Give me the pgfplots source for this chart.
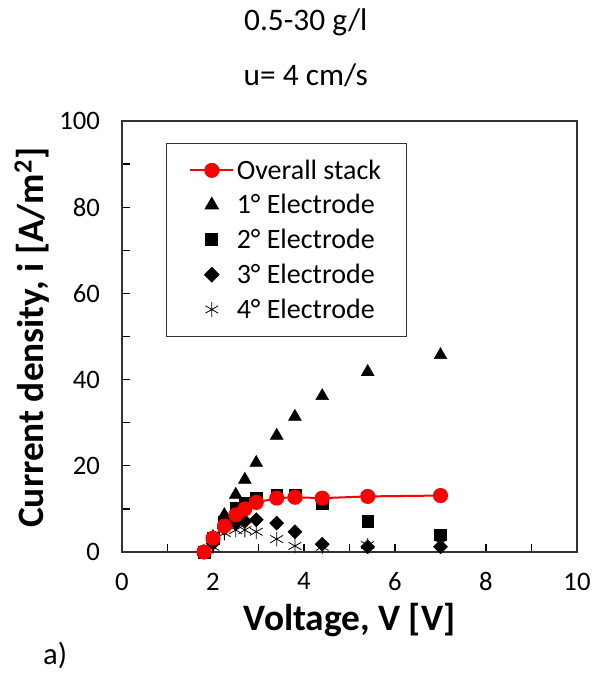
\documentclass[border=0pt]{standalone}
\usepackage{pgfplots}
\pgfplotsset{compat=1.18}
\usepackage{pgfplotstable}
\usepackage{fontspec}
\setmainfont{Carlito}

% V, overall stack, electrodes 1-4
\pgfplotstableread{
V     stack  e1    e2    e3    e4
1.80  0.0    0.0   0.0   0.0   0.0
2.00  3.2    3.5   3.2   2.0   1.2
2.25  6.0    8.6   7.0   5.5   4.4
2.50  8.6    13.3  10.2  6.7   5.1
2.70  10.0   16.8  11.3  7.1   5.1
2.95  11.5   20.7  12.5  7.5   4.7
3.40  12.5   27.0  13.3  6.7   3.0
3.80  12.7   31.4  13.3  4.7   1.4
4.40  12.5   36.2  11.3  1.8   1.2
5.40  12.9   41.8  7.1   1.2   1.6
7.00  13.1   45.7  4.0   1.2   2.0
}\datatable

\begin{document}
\begin{tikzpicture}
\useasboundingbox (0pt,0pt) rectangle (447pt,-506.25pt);
\begin{axis}[
    at={(91.5pt,-414pt)}, anchor=south west,
    scale only axis,
    width=341.25pt, height=323.25pt,
    xmin=0, xmax=10, ymin=0, ymax=100,
    xtick={0,2,...,10}, ytick={0,20,...,100},
    minor xtick={1,3,...,9}, minor ytick={10,30,...,90},
    tick align=inside,
    xtick pos=bottom, ytick pos=left,
    major tick length=6pt, minor tick length=6pt,
    every tick/.style={black, line width=1pt},
    axis line style={line width=1.3pt, black!80},
    tick label style={font=\fontsize{20}{24}\selectfont},
    xticklabel style={yshift=-12pt},
    yticklabel style={xshift=-13pt},
    /pgf/number format/assume math mode=true,
    xlabel={\textbf{Voltage, V [V]}},
    ylabel={\textbf{Current density, i [A/m\textsuperscript{2}]}},
    label style={font=\fontsize{28}{32}\selectfont},
    xlabel style={at={(axis description cs:0.5,-0.158)}, anchor=center},
    ylabel style={at={(axis description cs:-0.198,0.497)}, anchor=center},
    legend style={at={(axis description cs:0.097,0.949)}, anchor=north west,
        draw=black!80, line width=1pt, font=\fontsize{21}{21}\selectfont,
        row sep=6pt, inner xsep=17pt, inner ysep=10pt},
    legend cell align=left,
    legend image code/.code={
        \draw[mark repeat=2,mark phase=2] plot coordinates {(0pt,0pt) (16pt,0pt) (32pt,0pt)};
    },
    clip=false,
]
\addlegendimage{red, line width=1.5pt, mark=*, mark size=4.9pt, mark options={fill=red}}
\addlegendentry{Overall stack}
\addplot[only marks, mark=triangle*, mark size=5.5pt, black] table[x=V, y=e1] {\datatable};
\addlegendentry{1° Electrode}
\addplot[only marks, mark=square*, mark size=4.4pt, black] table[x=V, y=e2] {\datatable};
\addlegendentry{2° Electrode}
\addplot[only marks, mark=square*, mark size=3.7pt, mark options={rotate=45}, black] table[x=V, y=e3] {\datatable};
\addlegendentry{3° Electrode}
\addplot[only marks, mark=asterisk, mark size=5.5pt, black, mark options={line width=0.6pt}] table[x=V, y=e4] {\datatable};
\addlegendentry{4° Electrode}
\addplot[red, line width=1.5pt, mark=*, mark size=4.9pt, mark options={fill=red}, forget plot] table[x=V, y=stack] {\datatable};
\node[font=\fontsize{23.5}{26}\selectfont] at (axis description cs:0.404,1.23) {0.5-30 g/l};
\node[font=\fontsize{23.5}{26}\selectfont] at (axis description cs:0.404,1.107) {u= 4 cm/s};
\node[font=\fontsize{23}{26}\selectfont] at (axis description cs:-0.147,-0.239) {a)};
\end{axis}
\end{tikzpicture}
\end{document}
